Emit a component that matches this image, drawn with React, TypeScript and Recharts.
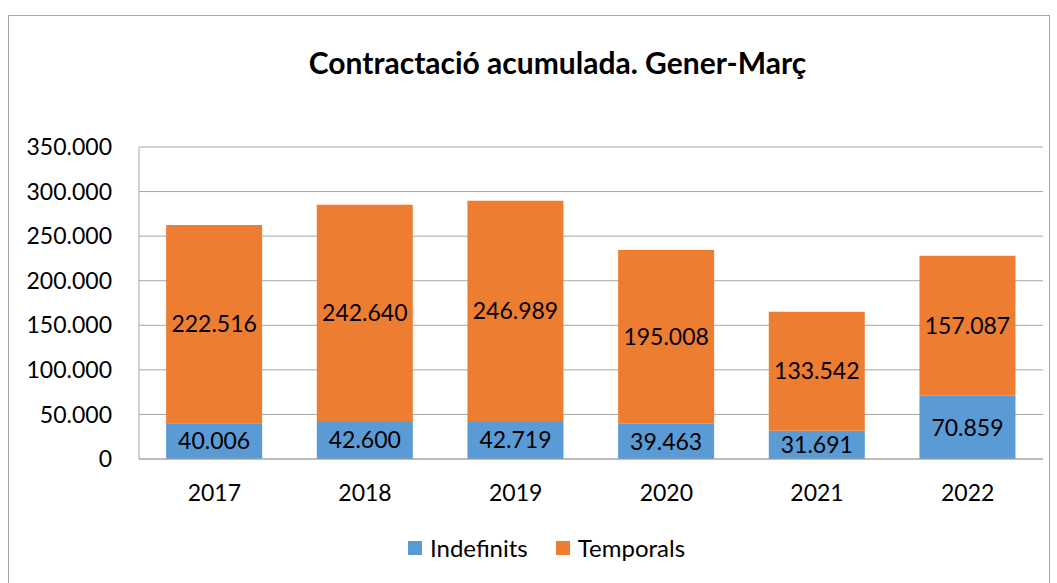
import { Bar, BarChart, CartesianGrid, LabelList, Legend, XAxis, YAxis } from 'recharts';

const years = ['2017', '2018', '2019', '2020', '2021', '2022'];
const indefinits = [40006, 42600, 42719, 39463, 31691, 70859];
const temporals = [222516, 242640, 246989, 195008, 133542, 157087];
const yTicks = [0, 50000, 100000, 150000, 200000, 250000, 300000, 350000];

const FONT = 'Lato, "Open Sans", sans-serif';

const seriesColors: Record<string, string> = {
  Indefinits: '#5b9bd5',
  Temporals: '#ed7d31',
};

// 1234567 -> "1.234.567"
const fmt = (v: number | string) => {
  const n = Number(v);
  if (n === 0) return '0';
  return String(Math.round(n)).replace(/\B(?=(\d{3})+(?!\d))/g, '.');
};

const LegendContent = () => (
  <div
    style={{
      display: 'flex',
      justifyContent: 'center',
      alignItems: 'center',
      gap: 28,
      fontSize: 24,
      fontFamily: FONT,
      color: '#000',
    }}
  >
    {Object.keys(seriesColors).map((name) => (
      <div key={name} style={{ display: 'flex', alignItems: 'center' }}>
        <span
          style={{
            display: 'inline-block',
            width: 14,
            height: 14,
            background: seriesColors[name],
            marginRight: 8,
          }}
        />
        <span>{name}</span>
      </div>
    ))}
  </div>
);

export default function App() {
  const data = years.map((year, i) => ({
    year,
    Indefinits: indefinits[i],
    Temporals: temporals[i],
  }));

  return (
    <div
      style={{
        position: 'absolute',
        left: 0,
        top: 0,
        width: 1057,
        height: 583,
        background: '#fff',
        fontFamily: FONT,
        overflow: 'hidden',
      }}
    >
      <div
        style={{
          position: 'absolute',
          left: 8,
          top: 15,
          width: 1042,
          height: 600,
          border: '1px solid #a6a6a6',
          boxSizing: 'border-box',
        }}
      />
      <div
        style={{
          position: 'absolute',
          left: 0,
          top: 44,
          width: 1115,
          textAlign: 'center',
          fontSize: 30,
          fontWeight: 'bold',
          color: '#000',
        }}
      >
        Contractació acumulada. Gener-Març
      </div>
      <div style={{ position: 'absolute', left: 0, top: 0 }}>
        <BarChart
          width={1057}
          height={583}
          data={data}
          margin={{ top: 147, right: 14, bottom: 65, left: 0 }}
          barCategoryGap="18%"
        >
          <CartesianGrid vertical={false} stroke="#a6a6a6" strokeWidth={1} />
          <XAxis
            dataKey="year"
            tickLine={false}
            axisLine={{ stroke: '#a6a6a6' }}
            tickSize={0}
            tickMargin={26}
            tick={{ fill: '#000', fontSize: 23, fontFamily: FONT }}
          />
          <YAxis
            width={139}
            domain={[0, 350000]}
            ticks={yTicks}
            tickFormatter={fmt}
            tickLine={false}
            axisLine={{ stroke: '#a6a6a6' }}
            tickSize={0}
            tickMargin={27}
            tick={{ fill: '#000', fontSize: 23, fontFamily: FONT }}
          />
          <Legend
            verticalAlign="bottom"
            content={<LegendContent />}
            wrapperStyle={{ top: 533, left: 18, width: 1057 }}
          />
          <Bar dataKey="Indefinits" stackId="a" fill={seriesColors.Indefinits} isAnimationActive={false}>
            <LabelList
              dataKey="Indefinits"
              position="center"
              formatter={fmt}
              style={{ fill: '#000', fontSize: 23, fontFamily: FONT }}
            />
          </Bar>
          <Bar dataKey="Temporals" stackId="a" fill={seriesColors.Temporals} isAnimationActive={false}>
            <LabelList
              dataKey="Temporals"
              position="center"
              formatter={fmt}
              style={{ fill: '#000', fontSize: 23, fontFamily: FONT }}
            />
          </Bar>
        </BarChart>
      </div>
    </div>
  );
}
